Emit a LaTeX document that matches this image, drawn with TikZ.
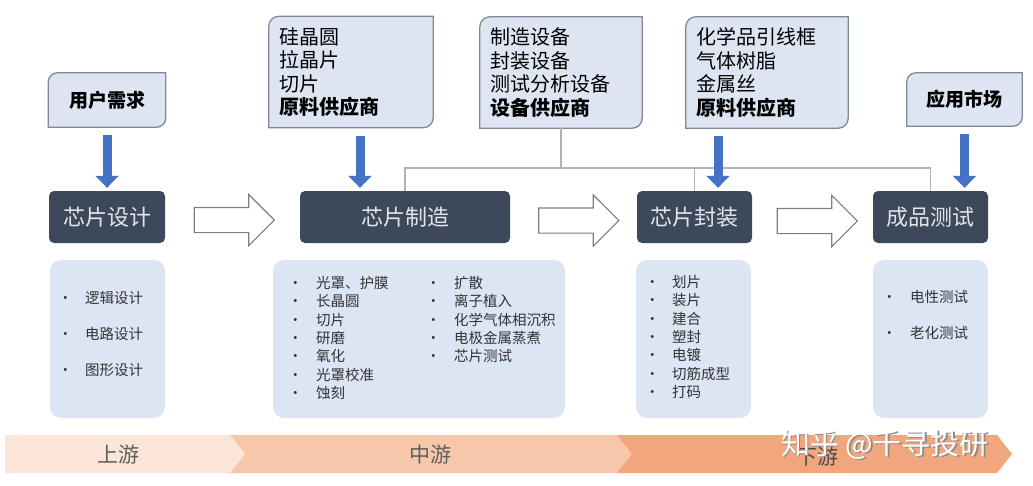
\documentclass[tikz,border=0pt]{standalone}
\usepackage{fontspec}
\setmainfont{Noto Sans CJK SC}
\usepackage{xcolor}
\usetikzlibrary{shapes.arrows, arrows.meta, backgrounds}

\definecolor{supfill}{RGB}{221,229,243}
\definecolor{supedge}{RGB}{128,136,146}
\definecolor{stagefill}{RGB}{61,72,90}
\definecolor{stagetext}{RGB}{226,230,236}
\definecolor{feedblue}{RGB}{68,114,196}
\definecolor{linkgray}{RGB}{175,180,186}
\definecolor{listfill}{RGB}{220,229,244}
\definecolor{upband}{RGB}{251,229,216}
\definecolor{midband}{RGB}{247,199,170}
\definecolor{downband}{RGB}{241,166,126}
\definecolor{bandtext}{RGB}{95,95,95}

\begin{document}
\begin{tikzpicture}[
            x=1pt, y=-1pt,
            font=\fontsize{20}{23.5}\selectfont,
            supply/.style={rectangle, align=left, inner xsep=10pt, inner ysep=0pt, minimum height=111pt},
            ask/.style={rectangle, minimum width=117pt, minimum height=54pt, font=\bfseries\fontsize{19}{22}\selectfont},
            tab/.style={draw=supedge, fill=supfill, line width=1.3pt},
            stage/.style={rectangle, rounded corners=5pt, fill=stagefill, text=stagetext, minimum width=116pt, minimum height=52pt, font=\fontsize{22}{24}\selectfont},
            spec/.style={rectangle, rounded corners=11pt, fill=listfill, minimum width=115pt, minimum height=158pt},
            items/.style={anchor=base west, inner sep=0pt, text=black!80, font=\fontsize{14.5}{18.3}\selectfont},
            hollow/.style={single arrow, draw=black!50, fill=white, line width=1.1pt, minimum height=80pt, minimum width=50pt, single arrow head extend=13pt, inner xsep=0pt, inner ysep=12pt},
            feed/.style={draw=feedblue, line width=9pt, -{Triangle[width=23pt,length=12pt]}, shorten <=8pt, shorten >=3pt},
            link/.style={draw=linkgray, line width=1.2pt},
            band/.style={text=bandtext, font=\fontsize{21}{24}\selectfont},
            wmark/.style={font=\fontsize{29}{32}\selectfont}
        ]
        \useasboundingbox (0,0) rectangle (1033,485);

        % suppliers and markets
        \node (need) [ask] at (107,100) {用户需求};
        \node (wafer) [supply, text width=144pt] at (351,72) {硅晶圆\\拉晶片\\切片\\\textbf{原料供应商}};
        \node (equip) [supply, text width=142pt] at (561,72.5) {制造设备\\封装设备\\测试分析设备\\\textbf{设备供应商}};
        \node (chem) [supply, text width=142pt] at (767,72.5) {化学品引线框\\气体树脂\\金属丝\\\textbf{原料供应商}};
        \node (market) [ask, minimum width=115pt, minimum height=53pt] at (964.5,99.5) {应用市场};

        % chain
        \node (design) [stage] at (107,217) {芯片设计};
        \node (fab) [stage, minimum width=210pt] at (405,217) {芯片制造};
        \node (pack) [stage, minimum width=115pt] at (694.5,217) {芯片封装};
        \node (test) [stage, minimum width=115pt] at (930.5,217) {成品测试};

        \node (a1) [hollow] at (228,220) {};
        \node (a2) [hollow] at (572.5,220.5) {};
        \node (a3) [hollow] at (811,221) {};

        % process lists
        \node (spec1) [spec] at (107.5,339) {};
        \node (spec2) [spec, minimum width=292pt] at (419,339) {};
        \node (spec3) [spec] at (693.5,339) {};
        \node (spec4) [spec] at (930.5,339) {};

        \node (items1) [items, font=\fontsize{14.5}{36}\selectfont] at (58,303) {\begin{tabular}[t]{@{}p{27pt}@{}l@{}}•&逻辑设计\\•&电路设计\\•&图形设计\end{tabular}};
        \node (items2) [items] at (288,288.5) {\begin{tabular}[t]{@{}p{28pt}@{}l@{}}•&光罩、护膜\\•&长晶圆\\•&切片\\•&研磨\\•&氧化\\•&光罩校准\\•&蚀刻\end{tabular}};
        \node (items3) [items] at (426,288.5) {\begin{tabular}[t]{@{}p{28pt}@{}l@{}}•&扩散\\•&离子植入\\•&化学气体相沉积\\•&电极金属蒸煮\\•&芯片测试\end{tabular}};
        \node (items4) [items] at (645,287.5) {\begin{tabular}[t]{@{}p{27pt}@{}l@{}}•&划片\\•&装片\\•&建合\\•&塑封\\•&电镀\\•&切筋成型\\•&打码\end{tabular}};
        \node (items5) [items, font=\fontsize{14.5}{36}\selectfont] at (882,302.5) {\begin{tabular}[t]{@{}p{28pt}@{}l@{}}•&电性测试\\•&老化测试\end{tabular}};

        \begin{scope}[on background layer]
            \foreach \n/\r in {need/9, wafer/10, equip/10, chem/10, market/9}
                \draw [tab] (\n.south west) -- ([yshift=-\r pt]\n.north west) arc[start angle=180, end angle=90, radius=\r pt] -- (\n.north east) -- ([yshift=\r pt]\n.south east) arc[start angle=0, end angle=-90, radius=\r pt] -- cycle;
        \end{scope}

        % connectors
        \coordinate (bus) at (0,168);
        \draw [link] (fab.north) -- (fab.north |- bus) -| (test.north);
        \draw [link] (equip.south) -- (equip.south |- bus);
        \draw [link] (pack.north) -- (pack.north |- bus);

        \draw [feed] (need.south) -- (design.north);
        \draw [feed] ([xshift=9pt]wafer.south) -- ([xshift=9pt]wafer.south |- fab.north);
        \draw [feed] ([xshift=23.5pt]pack.north |- chem.south) -- ([xshift=23.5pt]pack.north);
        \draw [feed] (market.south) -- (market.south |- test.north);

        % stream bands
        \fill [midband] (227,435) -- (619,435) -- (634,454) -- (619,473) -- (227,473) -- (245,454) -- cycle;
        \fill [downband] (617,435) -- (997,435) -- (1012,454) -- (997,473) -- (617,473) -- (632,454) -- cycle;
        \fill [upband] (5,435) -- (230,435) -- (245,454) -- (230,473) -- (5,473) -- cycle;
        \node (up) [band] at (118,455) {上游};
        \node (mid) [band] at (430,455) {中游};
        \node (down) [band, text=black!70] at (817,457) {下游};

        \node (wmshade) [wmark, text=black!45] at (886.5,446) {知乎 @千寻投研};
        \node (wm) [wmark, text=white] at (885,444.5) {知乎 @千寻投研};
\end{tikzpicture}
\end{document}
